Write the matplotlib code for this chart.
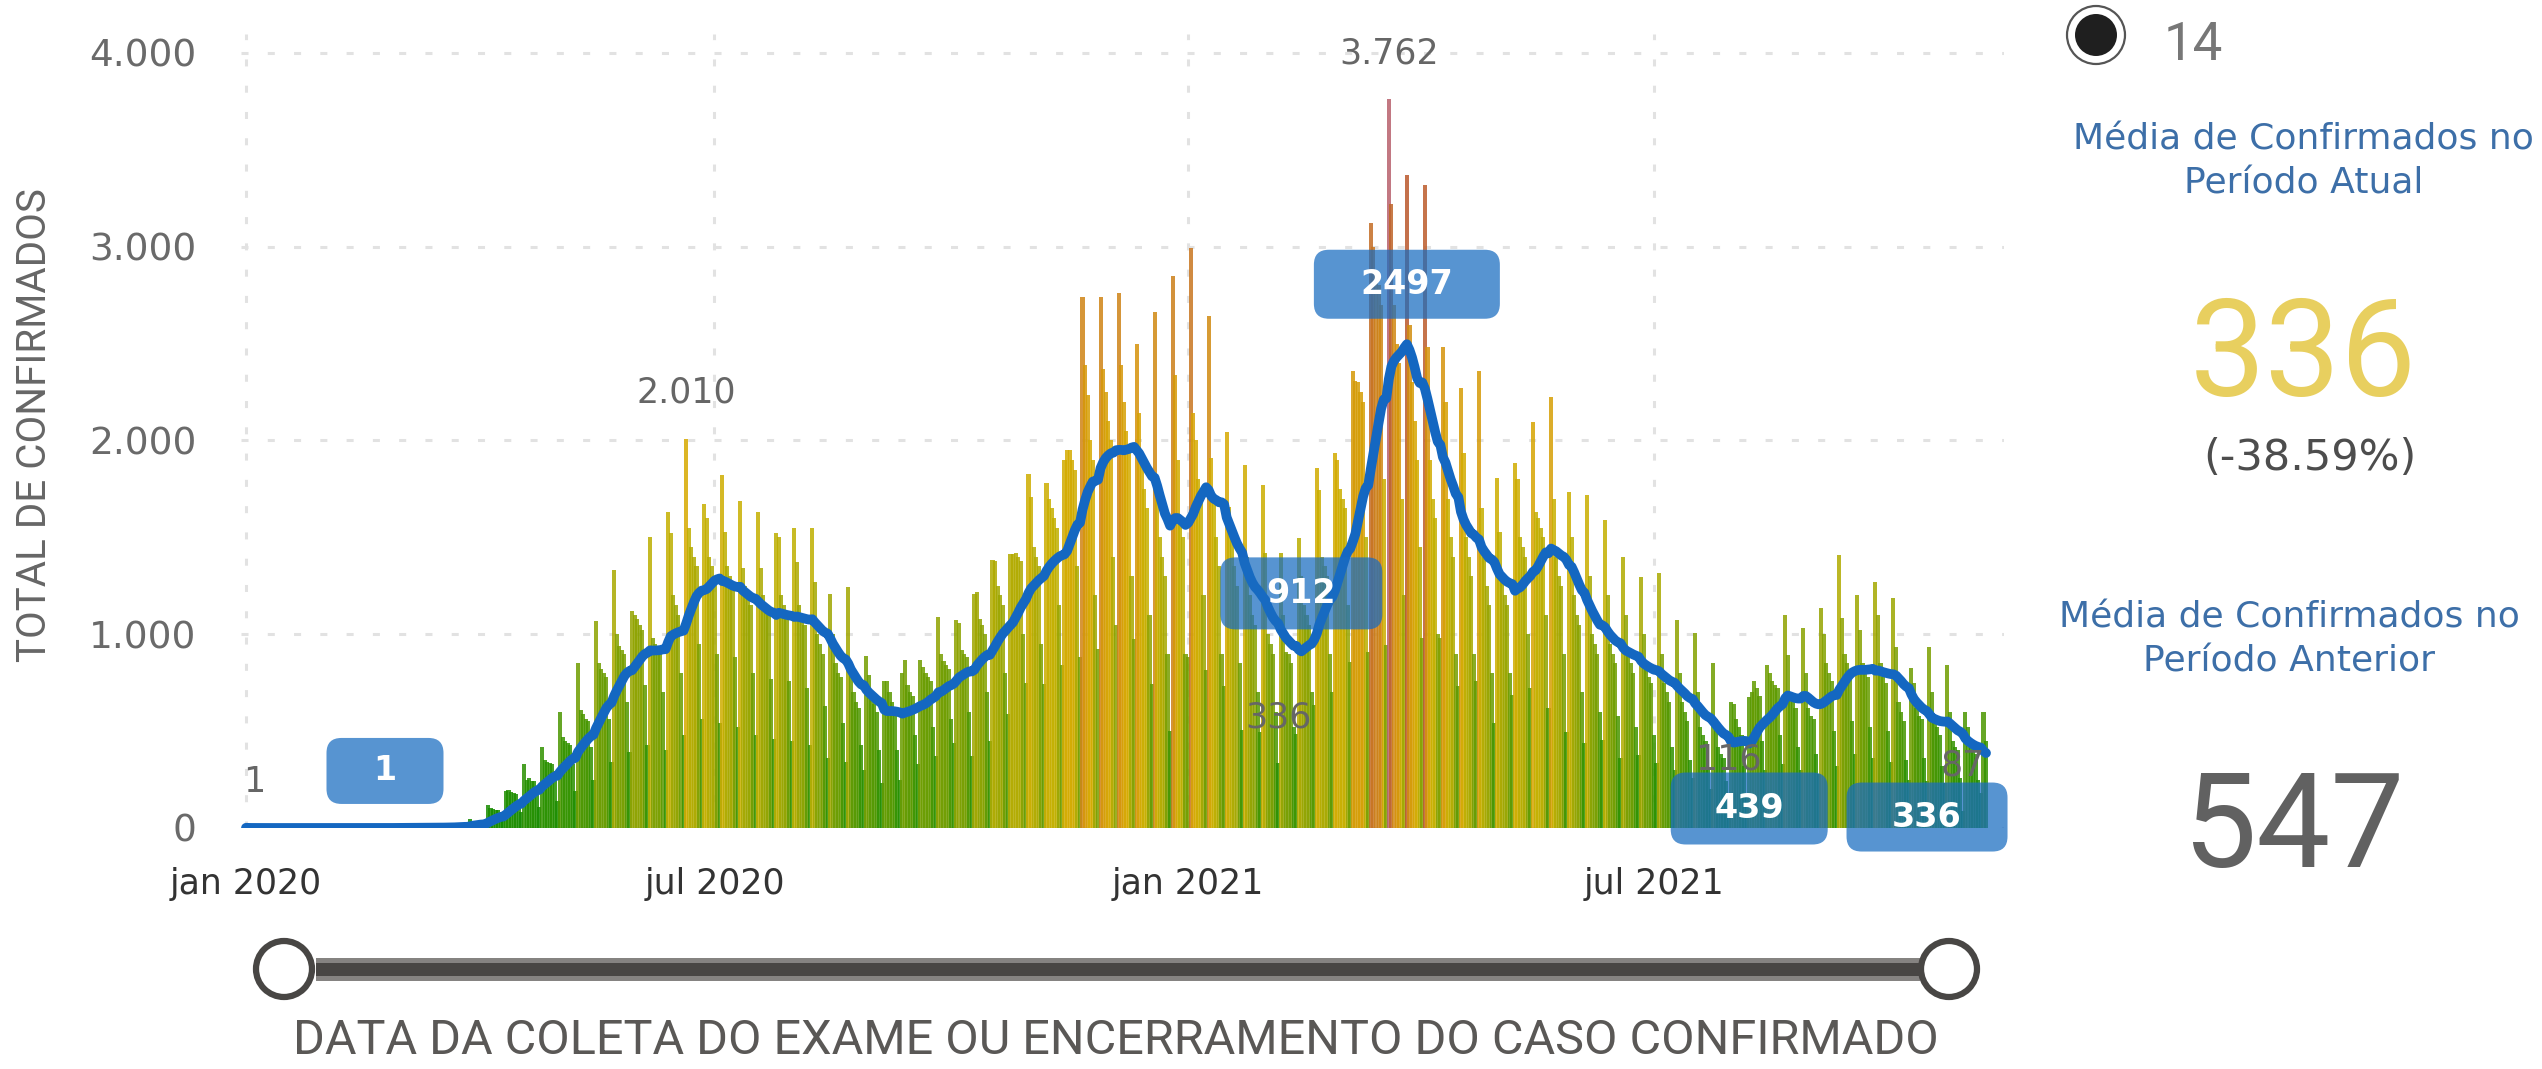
import numpy as np
import pandas as pd
import matplotlib
matplotlib.use("Agg")
import matplotlib.pyplot as plt
import matplotlib.dates as mdates
from matplotlib.colors import LinearSegmentedColormap, Normalize
from matplotlib.patches import FancyBboxPatch, Circle, Rectangle
from matplotlib.transforms import IdentityTransform

plt.rcParams['font.family'] = ['DejaVu Sans']

W, H = 2542, 1069
start_date = "2020-01-01"

# ---------------- data: daily confirmed cases ----------------
first_days = [1, 0, 0]
weeks = [
    [0, 0, 0, 0, 0, 0, 0],
    [0, 0, 0, 0, 0, 0, 0],
    [0, 0, 0, 0, 0, 0, 0],
    [0, 0, 0, 0, 0, 0, 0],
    [0, 0, 0, 0, 0, 0, 0],
    [0, 0, 0, 0, 0, 0, 0],
    [0, 1, 0, 0, 1, 0, 0],
    [1, 0, 1, 1, 0, 0, 1],
    [0, 1, 1, 0, 2, 0, 1],
    [2, 1, 2, 3, 1, 0, 1],
    [4, 3, 5, 4, 6, 2, 1],
    [9, 7, 12, 10, 13, 6, 4],
    [45, 38, 35, 32, 30, 20, 12],
    [120, 105, 100, 95, 92, 70, 40],
    [190, 195, 185, 180, 175, 140, 80],
    [330, 250, 260, 245, 240, 190, 110],
    [420, 350, 340, 335, 330, 250, 140],
    [600, 470, 450, 440, 430, 330, 190],
    [850, 610, 590, 560, 550, 420, 250],
    [1070, 850, 820, 800, 780, 560, 340],
    [1330, 1000, 940, 920, 900, 650, 390],
    [1120, 1100, 1080, 1050, 1020, 740, 430],
    [1500, 980, 950, 930, 920, 700, 400],
    [1630, 1520, 1200, 1150, 1100, 800, 480],
    [2010, 1550, 1450, 1400, 1350, 950, 560],
    [1670, 1600, 1400, 1350, 1300, 900, 540],
    [1820, 1530, 1350, 1300, 1250, 880, 520],
    [1690, 1340, 1250, 1200, 1150, 800, 480],
    [1630, 1340, 1200, 1150, 1100, 770, 460],
    [1520, 1500, 1200, 1150, 1100, 760, 450],
    [1550, 1375, 1150, 1100, 1050, 720, 430],
    [1550, 1270, 1000, 950, 900, 630, 360],
    [1210, 1000, 850, 800, 780, 540, 340],
    [1245, 850, 700, 650, 620, 430, 300],
    [890, 790, 680, 640, 600, 400, 230],
    [760, 760, 700, 650, 600, 400, 250],
    [800, 865, 740, 700, 680, 480, 330],
    [865, 830, 800, 780, 760, 520, 370],
    [1090, 900, 860, 840, 820, 560, 440],
    [1075, 1060, 920, 900, 880, 600, 370],
    [1210, 1217, 1080, 1050, 1000, 700, 450],
    [1385, 1380, 1250, 1200, 1150, 800, 590],
    [1416, 1416, 1420, 1400, 1380, 1000, 750],
    [1825, 1710, 1450, 1400, 1350, 950, 745],
    [1783, 1700, 1650, 1600, 1550, 1150, 840],
    [1899, 1951, 1950, 1900, 1850, 1350, 880],
    [2738, 2392, 2234, 2000, 1900, 1200, 923],
    [2738, 2371, 2250, 2100, 2000, 1400, 1050],
    [2763, 2392, 2200, 2050, 1950, 1300, 975],
    [2497, 2140, 1900, 1750, 1650, 1100, 745],
    [2664, 1800, 1500, 1400, 1300, 900, 500],
    [2849, 2340, 1900, 1600, 1500, 900, 880],
    [2994, 2140, 2000, 1800, 1700, 1200, 818],
    [2643, 1910, 1700, 1500, 1350, 900, 734],
    [2046, 1658, 1500, 1350, 1250, 850, 508],
    [1871, 1400, 1200, 1100, 1050, 700, 495],
    [1770, 1420, 1000, 950, 900, 600, 336],
    [1420, 1100, 908, 900, 850, 520, 483],
    [1495, 1300, 1150, 1100, 1050, 700, 633],
    [1858, 1746, 1400, 1350, 1300, 900, 700],
    [1933, 1900, 1750, 1700, 1650, 1150, 858],
    [2358, 2308, 2300, 2250, 2200, 1500, 908],
    [3121, 3000, 2850, 2800, 2700, 1800, 945],
    [3762, 3221, 2700, 2500, 2400, 1700, 1205],
    [3371, 2596, 2300, 2100, 1900, 1450, 983],
    [3321, 2483, 1900, 1700, 1600, 1000, 983],
    [2483, 2200, 1700, 1500, 1400, 900, 733],
    [2271, 1933, 1500, 1400, 1300, 900, 758],
    [2358, 1650, 1400, 1250, 1150, 800, 540],
    [1804, 1530, 1300, 1200, 1150, 800, 686],
    [1882, 1800, 1500, 1450, 1400, 1000, 720],
    [2097, 1632, 1600, 1550, 1500, 1100, 617],
    [2226, 1700, 1400, 1300, 1250, 900, 497],
    [1735, 1500, 1200, 1100, 1050, 700, 437],
    [1718, 1300, 1000, 950, 900, 600, 454],
    [1589, 1200, 950, 900, 850, 580, 360],
    [1400, 1100, 900, 850, 800, 520, 377],
    [1297, 1000, 820, 780, 750, 480, 334],
    [1314, 900, 750, 700, 650, 420, 300],
    [1073, 800, 650, 600, 550, 350, 260],
    [1004, 700, 520, 480, 450, 300, 200],
    [850, 560, 420, 380, 360, 240, 116],
    [652, 640, 560, 520, 480, 320, 180],
    [678, 700, 760, 720, 680, 450, 300],
    [841, 800, 760, 740, 720, 480, 330],
    [1099, 893, 700, 650, 620, 420, 300],
    [1030, 800, 620, 580, 560, 380, 280],
    [1133, 1000, 850, 800, 760, 500, 320],
    [1409, 1082, 900, 850, 800, 550, 380],
    [1202, 1022, 850, 800, 780, 520, 360],
    [1271, 1099, 850, 780, 750, 500, 340],
    [1185, 936, 650, 600, 550, 350, 250],
    [824, 750, 620, 580, 560, 360, 240],
    [936, 700, 560, 520, 480, 320, 230],
    [841, 600, 450, 420, 400, 260, 87],
    [600, 520, 420, 400, 380, 250, 180],
]
last_days = [600, 450]

tick_dates = ["2020-01-01", "2020-07-01", "2021-01-01", "2021-07-01"]
tick_labels = ["jan 2020", "jul 2020", "jan 2021", "jul 2021"]
y_ticks = [0, 1000, 2000, 3000, 4000]
y_tick_labels = ["0", "1.000", "2.000", "3.000", "4.000"]

avg_window = 14
line_label_texts = ["1", "2497", "912", "439", "336"]
current_avg_text = "336"
change_text = "(-38.59%)"
previous_avg_text = "547"

# ---------------- build series ----------------
values = list(first_days)
for w in weeks:
    values.extend(w)
values.extend(last_days)
values = np.array(values, dtype=float)
dates = pd.date_range(start_date, periods=len(values), freq="D")
s = pd.Series(values, index=dates)
ma = s.rolling(avg_window, min_periods=1).mean()
xnum = mdates.date2num(dates)

# ---------------- figure / axes ----------------
PXD = 2.574           # pixels per day
fig = plt.figure(figsize=(W / 100, H / 100), dpi=100)
ax_left, ax_right, ax_bottom, ax_top = 241, 2004, 828, 33.6
ax = fig.add_axes([ax_left / W, 1 - ax_bottom / H,
                   (ax_right - ax_left) / W, (ax_bottom - ax_top) / H])
x0 = mdates.date2num(pd.Timestamp(start_date))
ax.set_xlim(x0 - (246 - ax_left) / PXD, x0 + (ax_right - 246) / PXD)
ax.set_ylim(0, 4100)

stops = [(0, '#0f8a00'), (400, '#2f9200'), (800, '#6a9c00'), (1200, '#9ea600'),
         (1600, '#c4b000'), (2000, '#d6aa00'), (2500, '#d5920a'), (3000, '#c87620'),
         (3400, '#b9562e'), (3762, '#b8606c')]
vmax = values.max()
cmap = LinearSegmentedColormap.from_list('bars', [(v / 3762, c) for v, c in stops])
norm = Normalize(0, vmax)

ax.bar(xnum, values, width=1.6, color=cmap(norm(values)), alpha=0.85,
       linewidth=0, zorder=2)
ax.plot(xnum, ma.values, color='#1467c1', lw=7, solid_capstyle='round',
        solid_joinstyle='round', zorder=4)

ax.set_yticks(y_ticks)
ax.set_yticklabels(y_tick_labels)
ax.set_xticks(mdates.date2num(pd.to_datetime(tick_dates)))
ax.set_xticklabels(tick_labels)
ax.tick_params(axis='y', length=0, pad=32, labelsize=27, labelcolor='#6a6a6a')
ax.tick_params(axis='x', length=0, pad=28, labelsize=25, labelcolor='#333333')
ax.grid(True, color='#e2e2e2', linestyle=(0, (2.3, 6.3)), lw=2.2)
ax.set_axisbelow(True)
for sp in ax.spines.values():
    sp.set_visible(False)

# ---------------- gray bar labels ----------------
def fmt_pt(v):
    return f"{int(round(v)):,}".replace(",", ".")

lab_idx = [0]
lab_idx.append(int(np.argmax(values[:250])))
lab_idx.append(int(np.argmax(values)))
for lo, hi in [(395, 425), (560, 600), (650, len(values))]:
    lab_idx.append(lo + int(np.argmin(values[lo:hi])))
for i in lab_idx:
    dx = 6 if i == 0 else 0
    ax.annotate(fmt_pt(values[i]), (xnum[i], values[i]), xytext=(dx, 33),
                textcoords='offset points', ha='center', va='center',
                fontsize=25, color='#666666', zorder=5)

# ---------------- blue line labels ----------------
ident = IdentityTransform()
BOX_C = '#196cc1'

def blue_box(i, dx_px, dy_px, w, h, text):
    X, Y = ax.transData.transform((xnum[i], ma.values[i]))
    cx, cy = X + dx_px, Y + dy_px
    p = FancyBboxPatch((cx - w / 2, cy - h / 2), w, h,
                       boxstyle="round,pad=0,rounding_size=15",
                       transform=ident, fc=BOX_C, ec='none', alpha=0.73, zorder=6)
    fig.add_artist(p)
    fig.text(cx, cy, text, transform=ident, ha='center', va='center',
             fontsize=24, fontweight='bold', color='white', zorder=7)

i_peak = int(np.argmax(ma.values))
i_min1 = 395 + int(np.argmin(ma.values[395:425]))
i_min2 = 560 + int(np.argmin(ma.values[560:600]))
i_last = len(values) - 1
blue_box(54, 0, 57, 117, 66, line_label_texts[0])
blue_box(i_peak, 0, 60, 186, 69, line_label_texts[1])
blue_box(i_min1, 0, 58, 162, 72, line_label_texts[2])
blue_box(i_min2, 0, -65, 157, 72, line_label_texts[3])
blue_box(i_last, -59, -64, 161, 69, line_label_texts[4])

# ---------------- axis titles ----------------
def T(x, y):
    return (x, H - y)

fig.text(*T(35, 425), "TOTAL DE CONFIRMADOS", transform=ident, rotation=90,
         ha='center', va='center', fontsize=29, color='#666666', family='Roboto')
fig.text(*T(1116, 1041), "DATA DA COLETA DO EXAME OU ENCERRAMENTO DO CASO CONFIRMADO",
         transform=ident, ha='center', va='center', fontsize=35, color='#5a5856',
         family='Roboto')

# ---------------- slider ----------------
fig.add_artist(Rectangle(T(316, 969 + 11.5), 1604, 23, transform=ident,
                         fc='#858381', ec='none'))
fig.add_artist(Rectangle(T(316, 969 + 6.5), 1604, 13, transform=ident,
                         fc='#484644', ec='none'))
for cxp in (284, 1949):
    fig.add_artist(Circle(T(cxp, 969), 28, transform=ident, fc='white',
                          ec='#484644', lw=4.5))

# ---------------- right panel ----------------
fig.add_artist(Circle(T(2096, 35), 29, transform=ident, fc='white', ec='#555555', lw=1.6))
fig.add_artist(Circle(T(2096, 35), 21, transform=ident, fc='#1f1f1f', ec='none'))
fig.text(*T(2193, 60), str(avg_window), transform=ident, ha='center', va='baseline',
         fontsize=38, color='#777777', family='Roboto')

blue_txt = '#3d6fa8'
fig.text(*T(2303, 149), "Média de Confirmados no", transform=ident, ha='center',
         va='baseline', fontsize=26, color=blue_txt)
fig.text(*T(2304, 193), "Período Atual", transform=ident, ha='center',
         va='baseline', fontsize=26, color=blue_txt)
fig.text(*T(2303, 396), current_avg_text, transform=ident, ha='center', va='baseline',
         fontsize=97, color='#e8cf5f', family='Roboto')
fig.text(*T(2310, 470), change_text, transform=ident, ha='center', va='baseline',
         fontsize=31, color='#4d4d4d')
fig.text(*T(2289, 628), "Média de Confirmados no", transform=ident, ha='center',
         va='baseline', fontsize=26, color=blue_txt)
fig.text(*T(2289, 672), "Período Anterior", transform=ident, ha='center',
         va='baseline', fontsize=26, color=blue_txt)
fig.text(*T(2293, 867), previous_avg_text, transform=ident, ha='center', va='baseline',
         fontsize=95, color='#616161', family='Roboto')

fig.savefig("out.png", dpi=100, facecolor='white')
